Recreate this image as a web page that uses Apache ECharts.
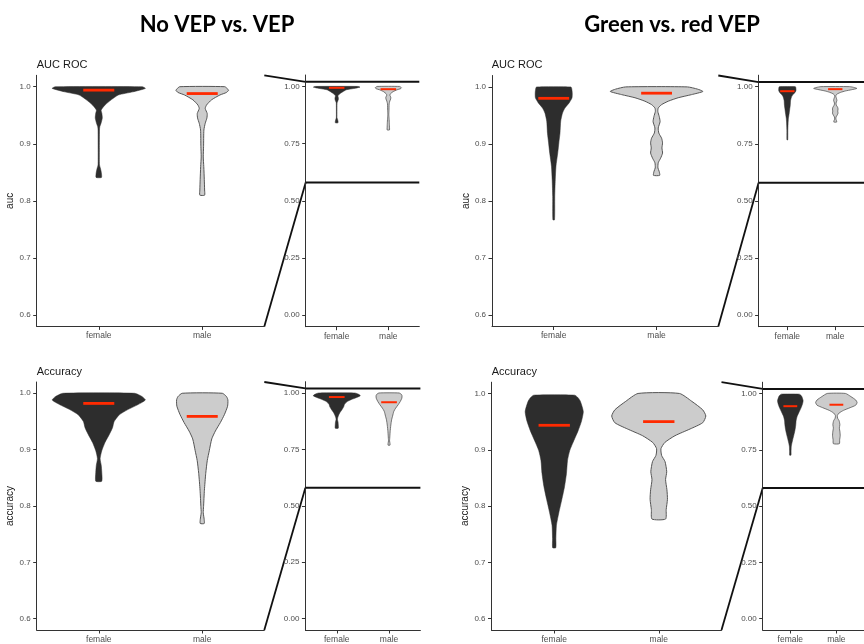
<!DOCTYPE html>
<html>
<head>
<meta charset="utf-8">
<script src="https://cdn.jsdelivr.net/npm/echarts@6/dist/echarts.min.js"></script>
<style>html,body{margin:0;padding:0;background:#fff}#c{width:864px;height:644px}</style>
</head>
<body>
<div id="c"></div>
<script>
// ---- data ----
const categories = ['female', 'male'];
const yTicksMain = [0.6, 0.7, 0.8, 0.9, 1.0];
const yTicksInset = [0, 0.25, 0.5, 0.75, 1];
const zoomRange = [0.58, 1.02];

// violin profiles: [value, half-width in category units]
const aucNoVepFemale = [[1.000,0.42],[0.997,0.45],[0.991,0.33],[0.9855,0.19],[0.977,0.12],[0.968,0.061],[0.959,0.023],[0.953,0.03],[0.945,0.034],[0.936,0.022],[0.930,0.01],[0.924,0.007],[0.890,0.006],[0.863,0.007],[0.857,0.016],[0.848,0.026],[0.841,0.026]];
const aucNoVepMale = [[1.000,0.218],[0.996,0.245],[0.994,0.255],[0.990,0.235],[0.9855,0.171],[0.977,0.09],[0.968,0.042],[0.962,0.029],[0.953,0.048],[0.945,0.045],[0.936,0.029],[0.924,0.016],[0.895,0.013],[0.877,0.010],[0.860,0.015],[0.837,0.020],[0.819,0.023],[0.810,0.023]];
const aucGrFemale = [[1.000,0.167],[0.997,0.175],[0.9895,0.18],[0.981,0.178],[0.972,0.15],[0.963,0.109],[0.954,0.085],[0.940,0.068],[0.919,0.061],[0.902,0.05],[0.884,0.039],[0.861,0.022],[0.837,0.015],[0.808,0.01],[0.767,0.008]];
const aucGrMale = [[1.000,0.30],[0.996,0.40],[0.992,0.45],[0.9865,0.34],[0.981,0.21],[0.975,0.114],[0.969,0.049],[0.963,0.016],[0.957,0.012],[0.948,0.026],[0.939,0.034],[0.928,0.016],[0.919,0.022],[0.910,0.049],[0.902,0.058],[0.893,0.052],[0.884,0.058],[0.875,0.039],[0.867,0.016],[0.858,0.013],[0.852,0.025],[0.845,0.03]];
const accNoVepFemale = [[1.000,0.347],[0.994,0.42],[0.988,0.45],[0.980,0.38],[0.971,0.28],[0.962,0.20],[0.950,0.149],[0.939,0.133],[0.927,0.102],[0.913,0.061],[0.898,0.029],[0.884,0.013],[0.872,0.024],[0.860,0.029],[0.844,0.029]];
const accNoVepMale = [[1.000,0.194],[0.994,0.235],[0.988,0.248],[0.977,0.245],[0.962,0.214],[0.948,0.175],[0.933,0.127],[0.919,0.092],[0.898,0.068],[0.881,0.049],[0.858,0.034],[0.828,0.021],[0.799,0.013],[0.788,0.010],[0.776,0.019],[0.769,0.019]];
const accGrFemale = [[0.997,0.195],[0.992,0.23],[0.986,0.25],[0.968,0.278],[0.951,0.261],[0.934,0.229],[0.916,0.187],[0.899,0.149],[0.881,0.127],[0.858,0.117],[0.835,0.099],[0.812,0.073],[0.789,0.045],[0.766,0.021],[0.742,0.016],[0.726,0.015]];
const accGrMale = [[1.000,0.198],[0.986,0.316],[0.971,0.42],[0.960,0.45],[0.948,0.42],[0.937,0.30],[0.925,0.155],[0.913,0.058],[0.902,0.021],[0.890,0.027],[0.879,0.06],[0.861,0.076],[0.847,0.065],[0.829,0.078],[0.812,0.083],[0.794,0.071],[0.777,0.065]];

// medians [female, male]
const medAucNoVep = [0.994, 0.988];
const medAucGr = [0.980, 0.989];
const medAccNoVep = [0.982, 0.959];
const medAccGr = [0.9435, 0.950];

// ---- layout ----
const X_MIN = 0.4, X_MAX = 2.6;
const panels = [
  {grid:{left:36.7, top:75.3, width:227.6, height:251.1}, inset:false, prof:[aucNoVepFemale, aucNoVepMale], med:medAucNoVep, yname:'auc'},
  {grid:{left:305.7, top:75.0, width:113.6, height:251.7}, inset:true, prof:[aucNoVepFemale, aucNoVepMale], med:medAucNoVep},
  {grid:{left:492.0, top:75.5, width:226.3, height:251.0}, inset:false, prof:[aucGrFemale, aucGrMale], med:medAucGr, yname:'auc'},
  {grid:{left:758.6, top:75.2, width:113.6, height:251.5}, inset:true, prof:[aucGrFemale, aucGrMale], med:medAucGr},
  {grid:{left:36.7, top:382.0, width:227.6, height:251.5}, inset:false, prof:[accNoVepFemale, accNoVepMale], med:medAccNoVep, yname:'accuracy'},
  {grid:{left:305.4, top:381.7, width:115.0, height:251.8}, inset:true, prof:[accNoVepFemale, accNoVepMale], med:medAccNoVep},
  {grid:{left:491.5, top:382.2, width:230.0, height:253.5}, inset:false, prof:[accGrFemale, accGrMale], med:medAccGr, yname:'accuracy'},
  {grid:{left:762.7, top:382.2, width:115.0, height:253.7}, inset:true, prof:[accGrFemale, accGrMale], med:medAccGr}
];

const FONT = 'Liberation Sans, Arial, sans-serif';
const fills = ['#2d2d2d', '#cccccc'];
const strokes = ['#2d2d2d', '#555555'];

const grids = [], xAxes = [], yAxes = [], series = [];
panels.forEach((p, gi) => {
  grids.push(Object.assign({containLabel:false}, p.grid));
  xAxes.push({
    type:'value', gridIndex:gi, min:X_MIN, max:X_MAX,
    splitLine:{show:false},
    axisLine:{show:true, onZero:false, lineStyle:{color:'#333', width:1}},
    axisTick:{show:true, length:3.5, lineStyle:{color:'#333'}, customValues:[1,2]},
    axisLabel:{show:true, customValues:[1,2], margin:5, color:'#4d4d4d', fontSize:8.5, fontFamily:FONT,
      formatter: v => categories[Math.round(v)-1] || ''}
  });
  const ticks = p.inset ? yTicksInset : yTicksMain;
  yAxes.push({
    type:'value', gridIndex:gi,
    min: p.inset ? -0.05 : zoomRange[0], max: p.inset ? 1.05 : zoomRange[1],
    splitLine:{show:false},
    axisLine:{show:true, onZero:false, lineStyle:{color:'#333', width:1}},
    axisTick:{show:true, length:3.5, lineStyle:{color:'#333'}, customValues:ticks},
    axisLabel:{show:true, customValues:ticks, margin:6, color:'#4d4d4d', fontSize:8, fontFamily:FONT,
      formatter: v => v.toFixed(p.inset ? 2 : 1)},
    name: p.yname || '', nameLocation:'middle', nameGap:10,
    nameTextStyle:{color:'#1a1a1a', fontSize:10, fontFamily:FONT}
  });
  series.push({
    type:'custom', xAxisIndex:gi, yAxisIndex:gi, silent:true, clip:false,
    data: p.med.map((m, i) => [i + 1, m]),
    renderItem: (params, api) => {
      const i = params.dataIndex, xc = i + 1, prof = p.prof[i];
      const right = prof.map(([v, w]) => api.coord([xc + w, v]));
      const left = prof.slice().reverse().map(([v, w]) => api.coord([xc - w, v]));
      const m = p.med[i];
      const a = api.coord([xc - 0.15, m]), b = api.coord([xc + 0.15, m]);
      return {type:'group', children:[
        {type:'polygon', shape:{points: right.concat(left), smooth:0.2},
          style:{fill: fills[i], stroke: strokes[i], lineWidth: i === 1 ? (p.inset ? 0.8 : 1) : 0.5}},
        {type:'line', shape:{x1:a[0], y1:a[1], x2:b[0], y2:b[1]},
          style:{stroke:'#ff2a00', lineWidth: p.inset ? 2 : 2.8}}
      ]};
    }
  });
  if (p.inset) {
    series.push({
      type:'custom', xAxisIndex:gi, yAxisIndex:gi, silent:true, clip:false,
      data: zoomRange.map(v => [1, v]),
      renderItem: (params, api) => {
        const v = zoomRange[params.dataIndex];
        const a = api.coord([X_MIN, v]), b = api.coord([X_MAX, v]);
        return {type:'line', shape:{x1:a[0], y1:a[1], x2:b[0], y2:b[1]}, style:{stroke:'#111', lineWidth:2}};
      }
    });
  }
});

const textEls = [
  {t:'No VEP vs. VEP', x:217, y:25, size:22, bold:true, align:'center', font:'Lato, Open Sans, sans-serif', color:'#000'},
  {t:'Green vs. red VEP', x:672, y:25, size:22, bold:true, align:'center', font:'Lato, Open Sans, sans-serif', color:'#000'},
  {t:'AUC ROC', x:36.7, y:65, size:11, align:'left', font:FONT, color:'#1a1a1a'},
  {t:'AUC ROC', x:491.7, y:65, size:11, align:'left', font:FONT, color:'#1a1a1a'},
  {t:'Accuracy', x:36.7, y:371.7, size:11, align:'left', font:FONT, color:'#1a1a1a'},
  {t:'Accuracy', x:491.7, y:371.7, size:11, align:'left', font:FONT, color:'#1a1a1a'}
].map(e => ({type:'text', x:e.x, y:e.y, silent:true,
  style:{text:e.t, fontSize:e.size, fontWeight:e.bold?'bold':'normal', fontFamily:e.font, fill:e.color,
    textAlign:e.align, textVerticalAlign:'middle'}}));

const chart = echarts.init(document.getElementById('c'), null, {renderer:'canvas'});
chart.setOption({
  animation:false, backgroundColor:'#fff',
  grid:grids, xAxis:xAxes, yAxis:yAxes, series:series, graphic:textEls
});

const connectors = [];
[[0,1],[2,3],[4,5],[6,7]].forEach(([m, n]) => {
  zoomRange.forEach(v => {
    const p1 = chart.convertToPixel({gridIndex:m}, [X_MAX, v]);
    const p2 = chart.convertToPixel({gridIndex:n}, [X_MIN, v]);
    connectors.push({type:'line', silent:true, shape:{x1:p1[0], y1:p1[1], x2:p2[0], y2:p2[1]},
      style:{stroke:'#111', lineWidth:1.8}});
  });
});
chart.setOption({graphic: textEls.concat(connectors)});
</script>
</body>
</html>
